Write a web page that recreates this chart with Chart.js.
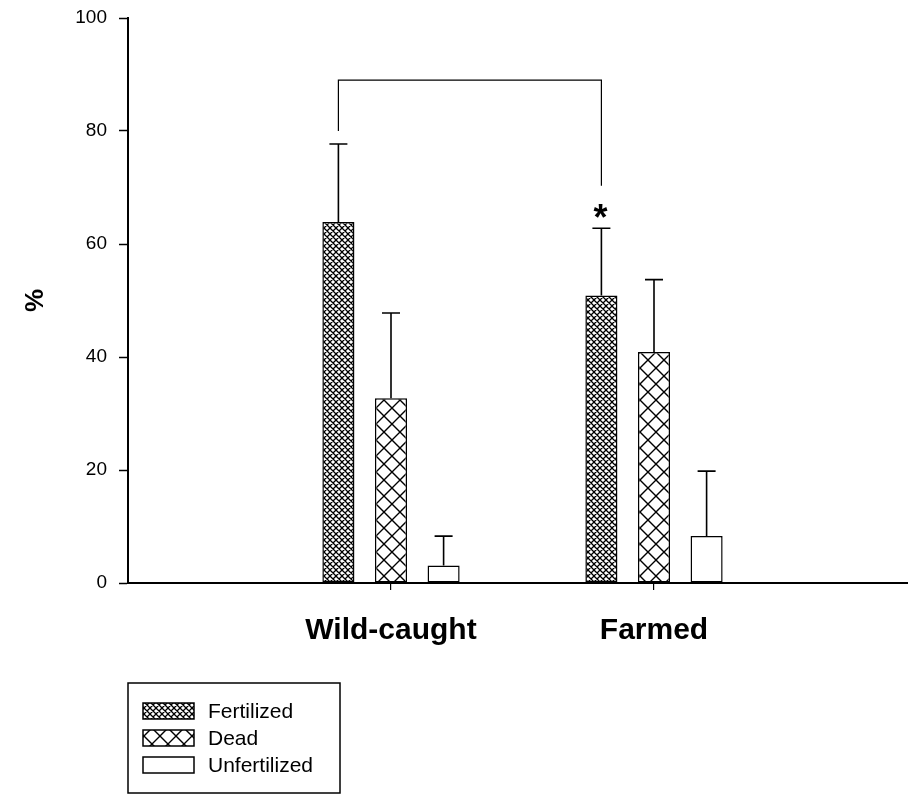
<!DOCTYPE html>
<html>
<head>
<meta charset="utf-8">
<script src="https://cdn.jsdelivr.net/npm/chart.js@4.4.1/dist/chart.umd.min.js"></script>
<style>
  html, body { margin: 0; padding: 0; background: #fff; overflow: hidden; }
  canvas { display: block; }
</style>
</head>
<body>
<canvas id="chart" width="918" height="794"></canvas>
<script>
const groups = ['Wild-caught', 'Farmed'];
const seriesNames = ['Fertilized', 'Dead', 'Unfertilized'];
const fertilized = [63.9, 50.9];
const dead = [32.7, 40.9];
const unfertilized = [3.1, 8.3];
const fertilizedErr = [13.8, 11.9];
const deadErr = [15.1, 12.8];
const unfertilizedErr = [5.2, 11.5];
const yTicks = [0, 20, 40, 60, 80, 100];
// significance bracket between the two fertilized bars
const bracketLevels = [80, 89, 70.3];

const FONT = 'Liberation Sans, Arial, sans-serif';
const canvas = document.getElementById('chart');
const ctx = canvas.getContext('2d');

function hatch(size, lw) {
  const c = document.createElement('canvas');
  c.width = c.height = size;
  const g = c.getContext('2d');
  g.fillStyle = '#fff';
  g.fillRect(0, 0, size, size);
  g.strokeStyle = '#000';
  g.lineWidth = lw;
  g.beginPath();
  for (const dx of [-size, 0, size]) {
    g.moveTo(dx - 1, -1); g.lineTo(dx + size + 1, size + 1);
    g.moveTo(dx + size + 1, -1); g.lineTo(dx - 1, size + 1);
  }
  g.stroke();
  return ctx.createPattern(c, 'repeat');
}

const fills = [hatch(6, 1.3), hatch(16, 1.4), '#fff'];
const errors = [fertilizedErr, deadErr, unfertilizedErr];
const pad = arr => [null, ...arr, null];

const errorBars = {
  id: 'errorBars',
  afterDatasetsDraw(chart) {
    const c = chart.ctx, y = chart.scales.y;
    c.save();
    c.strokeStyle = '#000';
    c.lineWidth = 1.6;
    chart.data.datasets.forEach((ds, i) => {
      chart.getDatasetMeta(i).data.forEach((bar, j) => {
        const v = ds.data[j];
        if (v == null) return;
        const top = y.getPixelForValue(v + errors[i][j - 1]);
        c.beginPath();
        c.moveTo(bar.x, bar.y);
        c.lineTo(bar.x, top);
        c.moveTo(bar.x - 9, top);
        c.lineTo(bar.x + 9, top);
        c.stroke();
      });
    });
    // bracket + asterisk
    const meta = chart.getDatasetMeta(0).data;
    const x1 = meta[1].x, x2 = meta[2].x;
    c.lineWidth = 1.2;
    c.beginPath();
    c.moveTo(x1, y.getPixelForValue(bracketLevels[0]));
    c.lineTo(x1, y.getPixelForValue(bracketLevels[1]));
    c.lineTo(x2, y.getPixelForValue(bracketLevels[1]));
    c.lineTo(x2, y.getPixelForValue(bracketLevels[2]));
    c.stroke();
    c.fillStyle = '#000';
    c.font = 'bold 36px ' + FONT;
    c.textAlign = 'center';
    c.textBaseline = 'alphabetic';
    c.fillText('*', x2 - 1, y.getPixelForValue(fertilized[1] + fertilizedErr[1]) + 2);
    c.restore();
  }
};

const boxLegend = {
  id: 'boxLegend',
  afterDraw(chart) {
    const c = chart.ctx;
    c.save();
    c.strokeStyle = '#000';
    c.lineWidth = 1.5;
    c.strokeRect(128, 683, 212, 110);
    c.font = '21px ' + FONT;
    c.textBaseline = 'middle';
    c.textAlign = 'left';
    chart.data.datasets.forEach((ds, i) => {
      const top = 703 + i * 27;
      c.fillStyle = ds.backgroundColor;
      c.fillRect(143, top, 51, 16);
      c.lineWidth = 1.5;
      c.strokeRect(143, top, 51, 16);
      c.fillStyle = '#000';
      c.fillText(ds.label, 208, top + 9);
    });
    c.restore();
  }
};

new Chart(canvas, {
  type: 'bar',
  data: {
    labels: ['', ...groups, ''],
    datasets: [
      { label: seriesNames[0], data: pad(fertilized), backgroundColor: fills[0] },
      { label: seriesNames[1], data: pad(dead), backgroundColor: fills[1] },
      { label: seriesNames[2], data: pad(unfertilized), backgroundColor: fills[2] }
    ].map(d => Object.assign(d, {
      borderColor: '#000', borderWidth: 1.5, borderSkipped: false,
      categoryPercentage: 0.6, barPercentage: 0.61
    }))
  },
  options: {
    responsive: false,
    animation: false,
    layout: { padding: { top: 18, right: 1, left: 0, bottom: 0 } },
    plugins: { legend: { display: false }, tooltip: { enabled: false } },
    scales: {
      x: {
        offset: false,
        afterFit: s => { s.height = 211; s.paddingLeft = 0; s.paddingRight = 0; },
        grid: {
          offset: false, drawOnChartArea: false, drawTicks: true, tickLength: 7, lineWidth: 1.2,
          color: c => (c.index === 0 ? 'rgba(0,0,0,0)' : '#000')
        },
        border: { display: true, color: '#000', width: 2 },
        ticks: { color: '#000', padding: 23, maxRotation: 0, font: { family: FONT, size: 30, weight: 'bold' } }
      },
      y: {
        min: 0, max: 100,
        afterFit: s => { s.width = 128; s.paddingTop = 0; s.paddingBottom = 0; },
        afterBuildTicks: s => { s.ticks = yTicks.map(v => ({ value: v })); },
        grid: { drawOnChartArea: false, drawTicks: true, tickLength: 9, tickColor: '#000', tickWidth: 1.5 },
        border: { display: true, color: '#000', width: 2 },
        ticks: { color: '#000', padding: 12, font: { family: FONT, size: 19 } },
        title: { display: true, text: '%', color: '#000', padding: { top: 20 }, font: { family: FONT, size: 26, weight: 'bold' } }
      }
    }
  },
  plugins: [errorBars, boxLegend]
});
</script>
</body>
</html>
